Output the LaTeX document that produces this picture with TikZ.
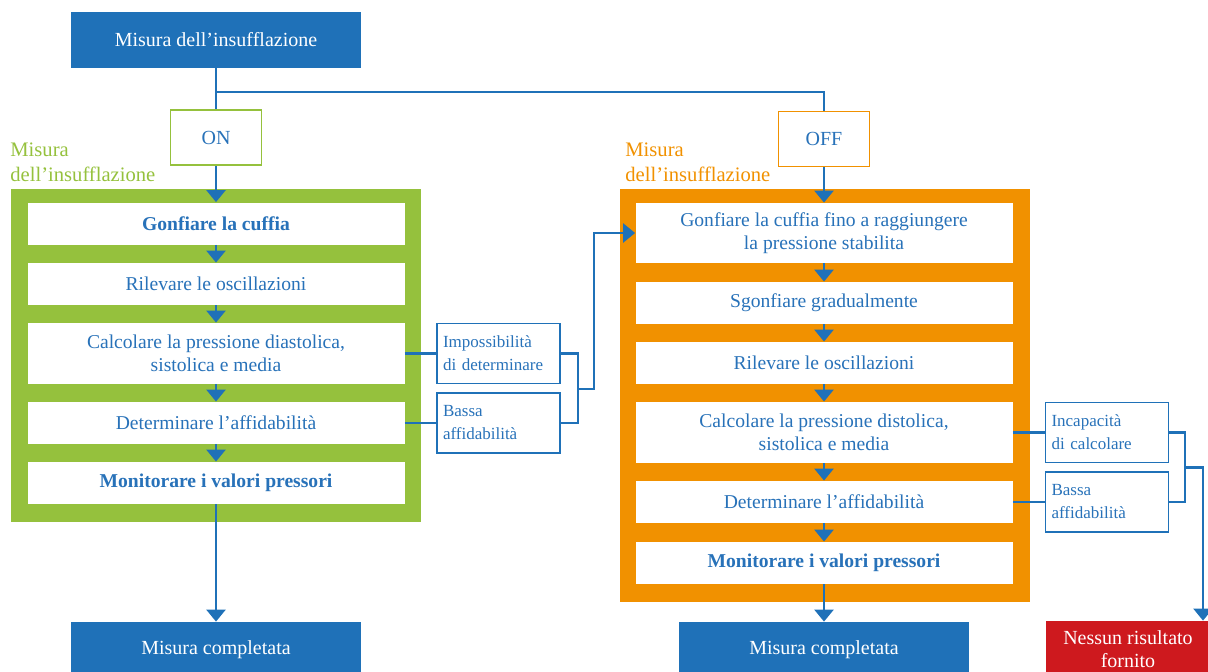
\documentclass[tikz,border=0pt]{standalone}
\usepackage{fontspec}
\setmainfont{Liberation Serif}
\usetikzlibrary{arrows.meta}
\definecolor{flowblue}{RGB}{31,113,184}
\definecolor{txtblue}{RGB}{40,114,185}
\definecolor{ongreen}{RGB}{149,193,61}
\definecolor{offorange}{RGB}{241,145,0}
\definecolor{errred}{RGB}{206,25,30}
\begin{document}
\begin{tikzpicture}[x=0.5pt,y=-0.5pt,
  bluebox/.style={fill=flowblue,text=white,minimum width=145pt,minimum height=28pt,
    inner sep=0pt,align=center,font=\fontsize{10}{12}\selectfont},
  stepbox/.style={fill=white,text=txtblue,minimum width=188.5pt,minimum height=21pt,
    inner sep=0pt,align=center,font=\fontsize{9.8}{11.4}\selectfont},
  switchbox/.style={draw,line width=0.75pt,fill=white,text=txtblue,minimum width=45.5pt,
    minimum height=27.5pt,font=\fontsize{10}{12}\selectfont},
  sidebox/.style={draw=flowblue,line width=0.85pt,text=txtblue,text width=55.5pt,
    inner xsep=3pt,inner ysep=0pt,minimum height=30pt,align=left,
    font=\fontsize{8.5}{11.5}\selectfont},
  modelabel/.style={anchor=north west,inner sep=0pt,align=left,
    font=\fontsize{10.3}{12.5}\selectfont},
  link/.style={draw=flowblue,line width=1.25pt},
  arrow/.style={link,-{Triangle[length=6pt,width=9.5pt]}}]
  \useasboundingbox (0,0) rectangle (1208,671);
  \clip (0,0) rectangle (1208,671);
  % frames
  \fill[ongreen] (11,189) rectangle (421,522);
  \fill[offorange] (620,189) rectangle (1030,602);
  \node[modelabel,text=ongreen] (onlabel) at (10,142) {Misura\\dell’insufflazione};
  \node[modelabel,text=offorange] (offlabel) at (625,142) {Misura\\dell’insufflazione};
  % start
  \node[bluebox] (top) at (216,40) {Misura dell’insufflazione};
  \node[switchbox,draw=ongreen] (on) at (216,137.5) {ON};
  \node[switchbox,draw=offorange] (off) at (824,139) {OFF};
  \coordinate (split) at (216,92);
  % ON branch
  \node[stepbox,font=\fontsize{9.8}{11.4}\selectfont\bfseries] (g1) at (216,223.5) {Gonfiare la cuffia};
  \node[stepbox] (g2) at (216,284) {Rilevare le oscillazioni};
  \node[stepbox,minimum height=30.5pt] (g3) at (216,353.5) {Calcolare la pressione diastolica,\\sistolica e media};
  \node[stepbox] (g4) at (216,423) {Determinare l’affidabilità};
  \node[stepbox,font=\fontsize{9.8}{11.4}\selectfont\bfseries] (g5) at (216,483) {Monitorare i valori pressori};
  \node[sidebox] (s1) at (498.5,353.5) {Impossibilità\\di determinare};
  \node[sidebox] (s2) at (498.5,423) {Bassa\\affidabilità};
  \node[bluebox] (done1) at (216,650) {Misura completata};
  % OFF branch
  \node[stepbox,minimum height=30pt] (o1) at (824,233) {Gonfiare la cuffia fino a raggiungere\\la pressione stabilita};
  \node[stepbox] (o2) at (824,303) {Sgonfiare gradualmente};
  \node[stepbox] (o3) at (824,363) {Rilevare le oscillazioni};
  \node[stepbox,minimum height=30.5pt] (o4) at (824,432.5) {Calcolare la pressione distolica,\\sistolica e media};
  \node[stepbox] (o5) at (824,502) {Determinare l’affidabilità};
  \node[stepbox,font=\fontsize{9.8}{11.4}\selectfont\bfseries] (o6) at (824,563) {Monitorare i valori pressori};
  \node[sidebox] (s3) at (1107,432.5) {Incapacità\\di calcolare};
  \node[sidebox] (s4) at (1107,502) {Bassa\\affidabilità};
  \node[bluebox] (done2) at (824,650) {Misura completata};
  \node[bluebox,fill=errred,minimum width=82.5pt,font=\fontsize{10}{11.5}\selectfont] (nores) at (1128,649) {Nessun risultato\\fornito};
  % connectors
  \draw[link] (top) -- (on);
  \draw[link] (split) -| (off);
  \draw[arrow] (on) -- (g1);
  \draw[arrow] (off) -- (o1);
  \foreach \a/\b in {g1/g2,g2/g3,g3/g4,g4/g5,g5/done1,o1/o2,o2/o3,o3/o4,o4/o5,o5/o6,o6/done2}
    \draw[arrow] (\a) -- (\b);
  \draw[link] (g3) -- (s1);
  \draw[link] (g4) -- (s2);
  \draw[link] (o4) -- (s3);
  \draw[link] (o5) -- (s4);
  \coordinate (lmerge) at (578,389);
  \coordinate (rmerge) at (1185,467.5);
  \draw[link] (s1.east) -| (lmerge) |- (s2.east);
  \draw[arrow] (lmerge) -- (594,389) |- (o1.west);
  \draw[link] (s3.east) -| (rmerge) |- (s4.east);
  \draw[arrow] (rmerge) -| ([xshift=37.5pt]nores.north);
\end{tikzpicture}
\end{document}
